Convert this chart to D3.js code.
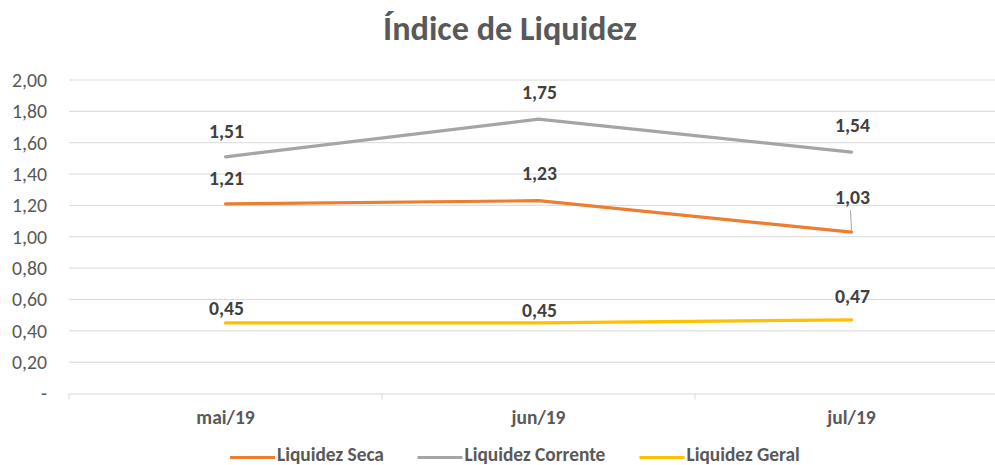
<!DOCTYPE html>
<html><head><meta charset="utf-8">
<script src="https://cdn.jsdelivr.net/npm/d3@7"></script>
<style>
body{margin:0;background:#fff;}
text{font-family:Carlito,"Open Sans","Liberation Sans",sans-serif;}
</style></head>
<body><svg id="c" width="995" height="465"></svg>
<script>
const categories = ["mai/19","jun/19","jul/19"];
const seriesNames = ["Liquidez Seca","Liquidez Corrente","Liquidez Geral"];
const seca = [1.21,1.23,1.03];
const corrente = [1.51,1.75,1.54];
const geral = [0.45,0.45,0.47];
const yTicks = [0,0.2,0.4,0.6,0.8,1.0,1.2,1.4,1.6,1.8,2.0];
const colors = ["#ED7D31","#A5A5A5","#FFC000"];

const series = [seca, corrente, geral].map((v,i)=>({name:seriesNames[i], values:v, color:colors[i]}));
const svg = d3.select("#c");
const fmt = v => v===0 ? "-" : d3.format(".2f")(v).replace(".",",");

// font size fitting: find size so that sample text has the target width
function fit(sample, target, weight){
  const t = svg.append("text").attr("font-size",100).attr("font-weight",weight).text(sample);
  const w = t.node().getComputedTextLength();
  t.remove();
  return 100*target/w;
}
const titleSize = fit("Índice de Liquidez",254,"bold");
const ySize = fit("2,00",35,"normal");
const xSize = fit("jun/19",54,"bold");
const lblSize = fit("1,51",35,"bold");
const legSize = fit("Liquidez Corrente",141,"bold");

const x = d3.scaleBand().domain(categories).range([69,1008]);
const y = d3.scaleLinear().domain([0,2]).range([393.5,80]);

// gridlines
svg.append("g").selectAll("line").data(yTicks.filter(t=>t>0)).join("line")
  .attr("x1",69).attr("x2",1008).attr("y1",d=>y(d)).attr("y2",d=>y(d))
  .attr("stroke","#D9D9D9").attr("stroke-width",1);

// x axis
const xa = svg.append("g").attr("transform",`translate(0,${y(0)})`)
  .call(d3.axisBottom(x).tickSize(0).tickPadding(0));
xa.select(".domain").attr("stroke","#D9D9D9");
xa.selectAll("text").attr("dy",null).attr("y",30).attr("font-size",xSize).attr("font-weight","bold").attr("fill","#595959");
// category separators
svg.append("g").selectAll("line").data([0,1,2,3]).join("line")
  .attr("x1",i=>69+i*x.step()).attr("x2",i=>69+i*x.step())
  .attr("y1",y(0)).attr("y2",y(0)+6).attr("stroke","#D9D9D9");

// y axis labels
const ya = svg.append("g").attr("transform","translate(47,0)")
  .call(d3.axisLeft(y).tickValues(yTicks).tickFormat(fmt).tickSize(0).tickPadding(0));
ya.select(".domain").remove();
ya.selectAll("text").attr("font-size",ySize).attr("fill","#595959");

// lines
const line = d3.line().x((d,i)=>x(categories[i])+x.bandwidth()/2).y(d=>y(d));
svg.append("g").selectAll("path").data(series).join("path")
  .attr("d",d=>line(d.values)).attr("fill","none")
  .attr("stroke",d=>d.color).attr("stroke-width",3.2).attr("stroke-linecap","round");

// labels (baseline offset from point)
const labelShift = {"Liquidez Seca":[-19,-20.5,-28],"Liquidez Corrente":[-18.5,-20,-20.5],"Liquidez Geral":[-8,-6,-16.5]};
series.forEach(s=>{
  s.values.forEach((v,i)=>{
    const cx = x(categories[i])+x.bandwidth()/2;
    const dy = labelShift[s.name][i];
    svg.append("text").attr("x",cx+1).attr("y",y(v)+dy).attr("text-anchor","middle")
      .attr("font-size",lblSize).attr("font-weight","bold").attr("fill","#404040").text(fmt(v));
    if (dy < -25) {
      svg.append("line").attr("x1",cx-1).attr("x2",cx).attr("y1",y(v)+dy+6).attr("y2",y(v)-1)
        .attr("stroke","#A6A6A6").attr("stroke-width",1);
    }
  });
});

// title
svg.append("text").attr("x",510).attr("y",40).attr("text-anchor","middle")
  .attr("font-size",titleSize).attr("font-weight","bold").attr("fill","#595959").text("Índice de Liquidez");

// legend
const legX = [230,417.5,639.5];
const lg = svg.append("g").selectAll("g").data(series).join("g")
  .attr("transform",(d,i)=>`translate(${legX[i]},457.5)`);
lg.append("line").attr("x1",0).attr("x2",45).attr("stroke",d=>d.color).attr("stroke-width",3.2);
lg.append("text").attr("x",47).attr("y",3.5).attr("font-size",legSize).attr("font-weight","bold")
  .attr("fill","#595959").text(d=>d.name);
</script></body></html>
